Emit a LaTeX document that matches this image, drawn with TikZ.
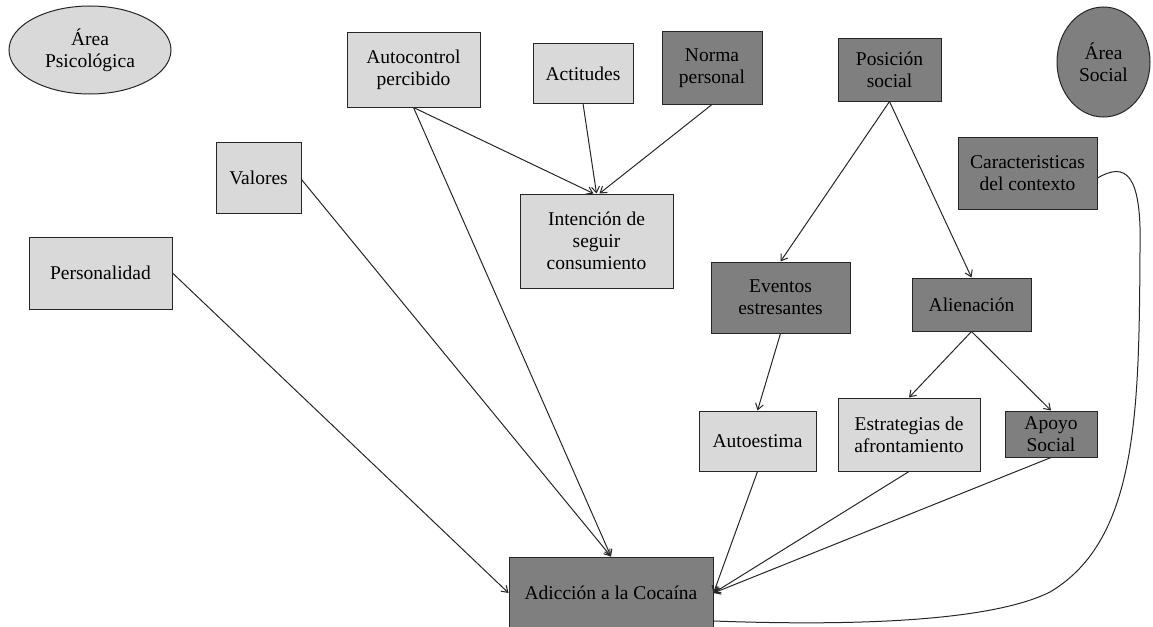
\documentclass[tikz,border=0pt]{standalone}
\usepackage{fontspec}
\newfontfamily\tnr{LiberationSerif}[Extension=.ttf, UprightFont=*-Regular, BoldFont=*-Bold]
\usetikzlibrary{shapes.geometric,arrows.meta}
\definecolor{lightg}{HTML}{D9D9D9}
\definecolor{darkg}{HTML}{7F7F7F}
\begin{document}
\begin{tikzpicture}[x=1pt,y=-1pt,
  every node/.style={font=\tnr\fontsize{19.5}{22}\selectfont, align=center, inner sep=0pt},
  lbox/.style={draw=black!85, line width=1pt, fill=lightg, rectangle},
  dbox/.style={draw=black!85, line width=1pt, fill=darkg, rectangle},
  arr/.style={draw=black!85, line width=1pt, -{Straight Barb[length=6pt,width=8pt]}},
  conn/.style={draw=black!85, line width=1pt}]
\useasboundingbox (0,0) rectangle (1153,626);
\node[ellipse, draw=black!85, line width=1pt, fill=lightg, minimum width=162, minimum height=88] (psi) at (90,50) {Área\\Psicológica};
\node[ellipse, draw=black!85, line width=1pt, fill=darkg, minimum width=93, minimum height=110] (soc) at (1103.5,62) {Área\\Social};
\node[lbox, minimum width=133, minimum height=74] (auto) at (413.5,70) {Autocontrol\\percibido};
\node[lbox, minimum width=100, minimum height=59] (acti) at (583,73.5) {Actitudes};
\node[dbox, minimum width=100, minimum height=72] (norma) at (712,68) {Norma\\personal};
\node[lbox, minimum width=153, minimum height=94] (inten) at (596.5,241) {Intención de\\seguir\\consumiento};
\node[dbox, minimum width=103, minimum height=62] (pos) at (889.5,70) {Posición\\social};
\node[dbox, minimum width=139, minimum height=72] (car) at (1027.5,173) {Caracteristicas\\del contexto};
\node[lbox, minimum width=85, minimum height=71] (val) at (258.5,177.5) {Valores};
\node[lbox, minimum width=143, minimum height=72] (pers) at (100.5,273) {Personalidad};
\node[dbox, minimum width=139, minimum height=71] (event) at (780.5,297.5) {Eventos\\estresantes};
\node[dbox, minimum width=119, minimum height=53] (alien) at (971.5,304.5) {Alienación};
\node[lbox, minimum width=117, minimum height=60] (autoe) at (757.5,441) {Autoestima};
\node[lbox, minimum width=142, minimum height=73] (estr) at (909,434.5) {Estrategias de\\afrontamiento};
\node[dbox, minimum width=92, minimum height=46] (apoyo) at (1051,434) {Apoyo\\Social};
\node[dbox, minimum width=204, minimum height=72] (adic) at (611,593) {Adicción a la Cocaína};

\draw[arr] (auto.south) -- ([xshift=-3pt]inten.north);
\draw[arr] (acti.south) -- (inten.north);
\draw[arr] (norma.south) -- ([xshift=3pt]inten.north);
\draw[arr] (auto.south) -- (adic.north);
\draw[arr] ([yshift=-2pt]val.east) -- (adic.north);
\draw[arr] (pers.east) -- (adic.west);
\draw[arr] (pos.south) -- (event.north);
\draw[arr] (pos.south) -- (alien.north);
\draw[arr] (event.south) -- (autoe.north);
\draw[arr] (alien.south) -- (estr.north);
\draw[arr] (alien.south) -- (apoyo.north);
\draw[arr] (autoe.south) -- (adic.east);
\draw[arr] (estr.south) -- (adic.east);
\draw[arr] (apoyo.south) -- (adic.east);
\draw[conn] ([yshift=-5pt]car.east) .. controls (1125,162) and (1142,172) .. (1140,250)
  .. controls (1139,410) and (1138,540) .. (1050,592)
  .. controls (990,622) and (850,626) .. ([yshift=-28pt]adic.east);
\end{tikzpicture}
\end{document}
